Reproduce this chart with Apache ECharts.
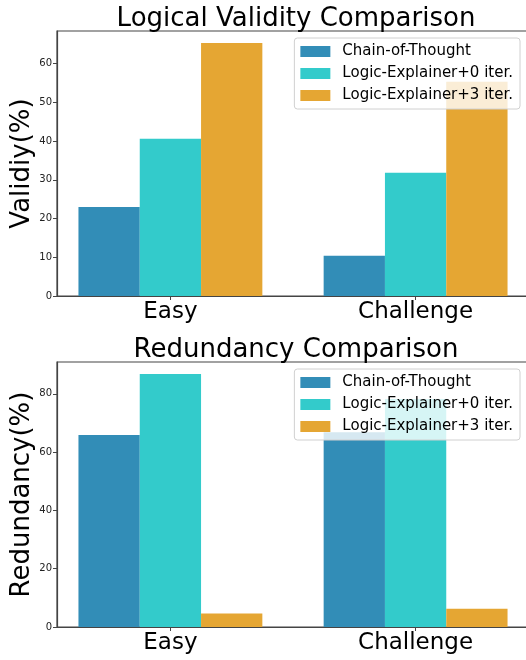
<!DOCTYPE html>
<html>
<head>
<meta charset="utf-8">
<script src="https://cdn.jsdelivr.net/npm/echarts@6/dist/echarts.min.js"></script>
<style>
  html, body { margin: 0; padding: 0; background: #fff; }
  #chart { width: 526px; height: 660px; }
</style>
</head>
<body>
<div id="chart"></div>
<script>
// data
const categories = ["Easy", "Challenge"];
const seriesNames = ["Chain-of-Thought", "Logic-Explainer+0 iter.", "Logic-Explainer+3 iter."];
const validity = {
  cot: [23.0, 10.4],
  le0: [40.6, 31.8],
  le3: [65.3, 55.3],
};
const redundancy = {
  cot: [65.9, 66.8],
  le0: [86.8, 78.2],
  le3: [4.6, 6.3],
};
const validityTicks = [0, 10, 20, 30, 40, 50, 60];
const redundancyTicks = [0, 20, 40, 60, 80];
const colors = ["#328db7", "#33cbcb", "#e5a633"];

const font = "DejaVu Sans";
const chart = echarts.init(document.getElementById("chart"));

const toPoints = (vals) => vals.map((v, i) => [i, v]);
const catIdx = categories.map((c, i) => i);

const makeX = (gridIndex) => ({
  type: "value",
  gridIndex,
  min: -0.4625,
  max: 1.4625,
  splitLine: { show: false },
  axisLine: { onZero: false, lineStyle: { color: "#444", width: 1.2 } },
  axisTick: { show: true, customValues: catIdx, length: 4, lineStyle: { color: "#444" } },
  axisLabel: {
    customValues: catIdx,
    formatter: (v) => categories[Math.round(v)],
    fontFamily: font,
    fontSize: 23,
    color: "#000",
    margin: 5,
  },
});

const makeY = (gridIndex, name, max, ticks) => ({
  type: "value",
  gridIndex,
  min: 0,
  max,
  name,
  nameLocation: "middle",
  nameGap: 22,
  nameMoveOverlap: false,
  nameTextStyle: { fontFamily: font, fontSize: 26, color: "#000" },
  splitLine: { show: false },
  axisLine: { show: true, onZero: false, lineStyle: { color: "#444", width: 1.2 } },
  axisTick: { show: true, customValues: ticks, length: 4, lineStyle: { color: "#444" } },
  axisLabel: { customValues: ticks, fontFamily: font, fontSize: 10, color: "#222", margin: 5 },
});

const makeLegend = (top) => ({
  orient: "vertical",
  right: 6,
  top,
  icon: "rect",
  itemWidth: 30,
  itemHeight: 11,
  itemGap: 7,
  padding: [6, 7, 6, 6],
  backgroundColor: "rgba(255,255,255,0.8)",
  borderColor: "#d0d0d0",
  borderWidth: 1,
  borderRadius: 3,
  data: seriesNames,
  textStyle: { fontFamily: font, fontSize: 15, color: "#000", padding: [0, 0, 0, 7] },
});

const makeSeries = (data, idx) =>
  [data.cot, data.le0, data.le3].map((vals, k) => ({
    name: seriesNames[k],
    type: "bar",
    xAxisIndex: idx,
    yAxisIndex: idx,
    data: toPoints(vals),
    barGap: "0%",
    barCategoryGap: "25%",
    itemStyle: { color: colors[k] },
  }));

const option = {
  animation: false,
  title: [
    { text: "Logical Validity Comparison", left: 291, top: 1, textAlign: "center",
      textStyle: { fontFamily: font, fontSize: 26, fontWeight: "normal", color: "#000" } },
    { text: "Redundancy Comparison", left: 291, top: 332, textAlign: "center",
      textStyle: { fontFamily: font, fontSize: 26, fontWeight: "normal", color: "#000" } },
  ],
  legend: [makeLegend(38), makeLegend(369)],
  grid: [
    { left: 57, right: -3, top: 31, height: 265, show: true, borderColor: "#444", borderWidth: 1.2,
      outerBoundsMode: "none" },
    { left: 57, right: -3, top: 362, height: 265, show: true, borderColor: "#444", borderWidth: 1.2,
      outerBoundsMode: "none" },
  ],
  xAxis: [makeX(0), makeX(1)],
  yAxis: [
    makeY(0, "Validiy(%)", 68.4, validityTicks),
    makeY(1, "Redundancy(%)", 90.9, redundancyTicks),
  ],
  series: [...makeSeries(validity, 0), ...makeSeries(redundancy, 1)],
};

chart.setOption(option);
</script>
</body>
</html>
